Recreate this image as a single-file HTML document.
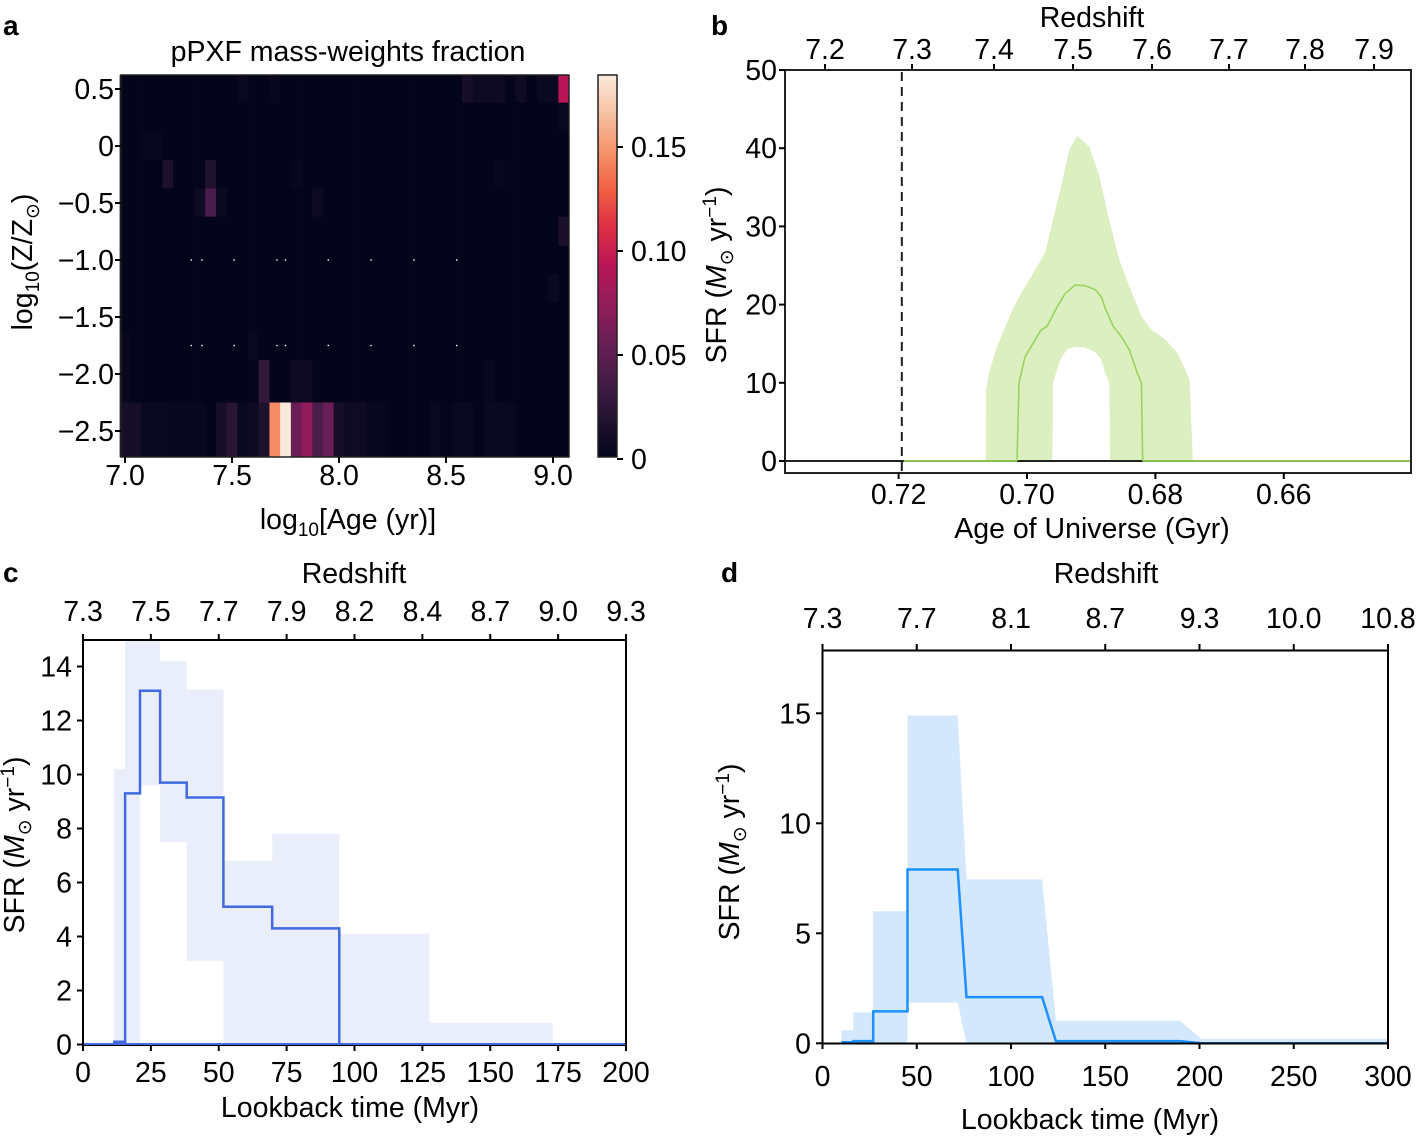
<!DOCTYPE html>
<html><head><meta charset="utf-8">
<style>
html,body{margin:0;padding:0;background:#fff;}
svg{display:block;font-family:"Liberation Sans",Arial,sans-serif;}
text{fill:#000;}
</style></head>
<body>
<svg id="fig" width="1416" height="1140" viewBox="0 0 1416 1140" xmlns="http://www.w3.org/2000/svg"></svg>
<script>
// ---------- Panel a data ----------
const ageCenters = []; // log10 age column centers
for (let k = 0; k < 42; k++) ageCenters.push(7.0 + 0.05 * k);
const zRowEdges = [0.623, 0.38, 0.125, -0.123, -0.372, -0.62, -0.875, -1.123, -1.37, -1.622, -1.877, -2.25, -2.725];
const bgValue = 0.0006;
const cellRow = [11,11,11,11,11,11,11,11,11,11,11,11,11,11,11,11,11,11,11,11,11,11,11,11,11,11,11,11,11,11, 10,10,10,10,10, 9,9, 7, 5, 4,4,4,4, 3,3,3,3, 2,2, 1, 0,0,0,0,0,0,0,0,0,0];
const cellCol = [0,1,2,3,4,5,6,7,9,10,11,12,13,14,15,16,17,18,19,20,21,22,23,24,29,31,32,34,35,36, 0,13,16,17,34, 0,12, 40, 41, 7,8,9,18, 4,8,16,35, 2,3, 41, 11,14,32,33,34,35,37,39,40,41];
const cellVal = [0.012,0.012,0.005,0.005,0.004,0.003,0.003,0.004,0.012,0.022,0.004,0.007,0.016,0.145,0.184,0.055,0.074,0.04,0.055,0.012,0.006,0.008,0.003,0.003,0.004,0.004,0.005,0.005,0.005,0.004, 0.004,0.028,0.006,0.006,0.004, 0.004,0.004, 0.005, 0.014, 0.008,0.04,0.005,0.007, 0.015,0.017,0.003,0.003, 0.003,0.003, 0.004, 0.004,0.003,0.012,0.006,0.006,0.006,0.008,0.005,0.005,0.092];
const dotAges = [7.31,7.36,7.51,7.71,7.75,7.95,8.15,8.35,8.55];
const dotZ = [-1.0,-1.75];
const aXTicks = [7.0,7.5,8.0,8.5,9.0];
const aXLabels = ['7.0','7.5','8.0','8.5','9.0'];
const aYTicks = [0.5,0,-0.5,-1.0,-1.5,-2.0,-2.5];
const aYLabels = ['0.5','0','\u22120.5','\u22121.0','\u22121.5','\u22122.0','\u22122.5'];
const cbTicks = [0,0.05,0.10,0.15];
const cbLabels = ['0','0.05','0.10','0.15'];

// ---------- Panel b data ----------
const bUpperAge = [0.7064,0.70639,0.70595,0.70469,0.70251,0.70062,0.69907,0.6972,0.69595,0.6947,0.69343,0.69218,0.69031,0.68874,0.68718,0.68561,0.68405,0.68218,0.68061,0.67843,0.67654,0.67467,0.67416];
const bUpperVal = [0,9.1,11.2,14.6,18.9,21.9,24.0,26.6,30.8,35.1,39.8,41.6,40.2,36.4,30.8,25.7,22.3,18.5,16.8,15.5,13.8,10.4,0];
const bLowerAge = [0.69606,0.69593,0.69531,0.69469,0.69374,0.69249,0.69093,0.68936,0.68843,0.6878,0.68718,0.68706];
const bLowerVal = [0,10.0,11.7,13.2,14.3,14.6,14.5,13.9,13.0,11.2,10.0,0];
const bMedAge = [0.70156,0.70125,0.70031,0.69938,0.69782,0.69688,0.69531,0.69407,0.69249,0.69093,0.68936,0.68843,0.6878,0.68656,0.6853,0.68405,0.6828,0.68218,0.68198];
const bMedVal = [0,10.0,13.3,14.6,16.75,17.2,19.7,21.4,22.5,22.4,21.9,21.0,19.5,17.2,15.9,14.2,11.2,10.0,0];
const bObsAge = 0.7195;
const bXTicks = [0.72,0.70,0.68,0.66];
const bXLabels = ['0.72','0.70','0.68','0.66'];
const bYTicks = [0,10,20,30,40,50];
const bTopAge = [0.73146,0.71791,0.70514,0.69283,0.68053,0.66854,0.6567,0.64595];
const bTopLabels = ['7.2','7.3','7.4','7.5','7.6','7.7','7.8','7.9'];

// ---------- Panel c data ----------
const cEdges = [0,11.5,15.5,21,28.4,38.2,51.7,69.7,94.4,127.6,173,200];
const cMedian = [0,0.1,9.3,13.1,9.7,9.15,5.1,4.3,0,0,0];
const cUpper = [0,10.2,15.5,15.5,14.2,13.15,6.8,7.8,4.1,0.8,0];
const cLower = [0,0,0,9.6,7.5,3.1,0,0,0,0,0];
const cXTicks = [0,25,50,75,100,125,150,175,200];
const cYTicks = [0,2,4,6,8,10,12,14];
const cTopLabels = ['7.3','7.5','7.7','7.9','8.2','8.4','8.7','9.0','9.3'];

// ---------- Panel d data ----------
const dUpperT = [10,10,16.4,16.4,26.9,26.9,45.1,45.1,71.7,76.4,116.5,123.8,189.6,201,300,300];
const dUpperV = [0,0.6,0.6,1.4,1.4,6.0,6.0,14.9,14.9,7.45,7.45,1.03,1.03,0.2,0.2,0];
const dLowerT = [45.1,45.1,71.7,76.4];
const dLowerV = [0,1.85,1.85,0];
const dMedT = [10,16.4,16.4,26.9,26.9,45.1,45.1,71.7,76.4,116.5,123.8,189.6,201,300];
const dMedV = [0.05,0.05,0.1,0.1,1.45,1.45,7.9,7.9,2.1,2.1,0.1,0.1,0,0];
const dXTicks = [0,50,100,150,200,250,300];
const dYTicks = [0,5,10,15];
const dTopLabels = ['7.3','7.7','8.1','8.7','9.3','10.0','10.8'];

// ---------- helpers ----------
const NS = 'http://www.w3.org/2000/svg';
const svg = document.getElementById('fig');
function mk(tag, attrs, name, parent) {
  const el = document.createElementNS(NS, tag);
  for (const k in attrs) el.setAttribute(k, attrs[k]);
  
  
  (parent || svg).appendChild(el);
  return el;
}
function txt(s, x, y, size, anchor, name, extra) {
  const el = mk('text', Object.assign({x: x, y: y, 'font-size': size, 'text-anchor': anchor || 'middle'}, extra || {}), name);
  el.textContent = s;
  return el;
}
function line(x1,y1,x2,y2,name,stroke,w,dash){
  const a={x1:x1,y1:y1,x2:x2,y2:y2,stroke:stroke||'#000','stroke-width':w||2};
  if(dash) a['stroke-dasharray']=dash;
  return mk('line',a,name);
}
const FS = 28.5;
const SUB = 19;
const stops = [[0,'#03051a'],[0.1,'#221331'],[0.2,'#451c47'],[0.3,'#6a1f56'],[0.4,'#921c5b'],[0.5,'#b91657'],[0.6,'#de2e44'],[0.7,'#f06043'],[0.8,'#f5936a'],[0.9,'#f6c1a2'],[1,'#faebdd']];
function hx(c){return [parseInt(c.slice(1,3),16),parseInt(c.slice(3,5),16),parseInt(c.slice(5,7),16)];}
function cmap(t){
  t=Math.max(0,Math.min(1,t));
  for(let i=1;i<stops.length;i++){ if(t<=stops[i][0]){ const a=hx(stops[i-1][1]),b=hx(stops[i][1]); const f=(t-stops[i-1][0])/(stops[i][0]-stops[i-1][0]); return 'rgb('+a.map((v,j)=>Math.round(v+(b[j]-v)*f)).join(',')+')'; } }
  return stops[stops.length-1][1];
}
const sfrLabel = 'SFR (<tspan font-style="italic">M</tspan><tspan font-size="'+SUB+'" dy="7">\u2299</tspan><tspan dy="-7"> yr</tspan><tspan font-size="'+SUB+'" dy="-10">\u22121</tspan><tspan dy="10">)</tspan>';

// ---------- Panel a ----------
const aX = v => 125 + (v - 7.0) * 214;
const aY = z => 89 - (z - 0.5) * 114;
const vmax = 0.1846;
const heat = mk('g', {}, 'heatmap');
const grid = [];
for (let r = 0; r < 12; r++) { grid.push([]); for (let c = 0; c < 42; c++) grid[r].push(bgValue); }
for (let i = 0; i < cellRow.length; i++) grid[cellRow[i]][cellCol[i]] = cellVal[i];
for (let r = 0; r < 12; r++) {
  for (let c = 0; c < 42; c++) {
    const x0 = aX(ageCenters[c] - 0.025), x1 = aX(ageCenters[c] + 0.025);
    const y0 = aY(zRowEdges[r]), y1 = aY(zRowEdges[r + 1]);
    mk('rect', {x: x0, y: y0, width: x1 - x0 + 0.4, height: y1 - y0 + 0.4, fill: cmap(grid[r][c] / vmax)}, 'heatmap-cell', heat);
  }
}
dotZ.forEach(z => dotAges.forEach(a => mk('rect', {x: aX(a) - 0.7, y: aY(z) - 0.7, width: 1.4, height: 1.4, fill: '#fff'}, 'grid-dot')));
mk('rect', {x: 121, y: 75, width: 448, height: 382, fill: 'none', stroke: '#222', 'stroke-width': 1.5}, 'heatmap-frame');
aXTicks.forEach((t, i) => { line(aX(t), 457, aX(t), 463, 'x-tick-a'); txt(aXLabels[i], aX(t), 485, FS, 'middle', 'x-tick-label-a'); });
aYTicks.forEach((t, i) => { line(115, aY(t), 121, aY(t), 'y-tick-a'); txt(aYLabels[i], 114, aY(t) + 10, FS, 'end', 'y-tick-label-a'); });
txt('pPXF mass-weights fraction', 348, 61, FS, 'middle', 'panel-a-title');
(function(){ const t = txt('', 348, 529, FS, 'middle', 'x-axis-title-a'); t.innerHTML = 'log<tspan font-size="'+SUB+'" dy="7">10</tspan><tspan dy="-7">[Age (yr)]</tspan>'; })();
(function(){ const t = txt('', 0, 0, FS, 'middle', 'y-axis-title-a', {transform: 'translate(32,262) rotate(-90)'}); t.innerHTML = 'log<tspan font-size="'+SUB+'" dy="7">10</tspan><tspan dy="-7">(Z/Z</tspan><tspan font-size="'+SUB+'" dy="7">\u2299</tspan><tspan dy="-7">)</tspan>'; })();
txt('a', 3, 35, 28, 'start', 'panel-label-a', {'font-weight': 'bold'});
// colorbar
const defs = mk('defs', {}, 'defs');
const grad = mk('linearGradient', {id: 'rocket', x1: 0, y1: 1, x2: 0, y2: 0}, 'colorbar-gradient', defs);
stops.forEach(s => mk('stop', {offset: s[0], 'stop-color': s[1]}, 'gradient-stop', grad));
mk('rect', {x: 598, y: 75, width: 19, height: 382, fill: 'url(#rocket)', stroke: '#222', 'stroke-width': 1.5}, 'colorbar');
const cbY = v => 459 - v * 2080;
cbTicks.forEach((t, i) => { line(617, cbY(t), 623, cbY(t), 'colorbar-tick'); txt(cbLabels[i], 631, cbY(t) + 10, FS, 'start', 'colorbar-label'); });

// ---------- Panel b ----------
const bX = g => 1027 - (g - 0.70) * 6420;
const bY = v => 461 - v * 7.82;
const ptsB = (xs, vs) => xs.map((g, i) => bX(g).toFixed(1) + ',' + bY(vs[i]).toFixed(1)).join(' ');
mk('polygon', {points: ptsB(bUpperAge, bUpperVal), fill: '#dbefc0'}, 'sfr-band-b');
mk('polygon', {points: ptsB(bLowerAge, bLowerVal), fill: '#fff'}, 'sfr-band-b-lower');
line(785, bY(0), 1411, bY(0), 'zero-line-b', '#222', 2);
line(bX(bObsAge) + 2, bY(0), bX(bMedAge[0]), bY(0), 'median-zero-b-left', '#8cc152', 2);
line(bX(bMedAge[bMedAge.length - 1]), bY(0), 1410, bY(0), 'median-zero-b-right', '#8cc152', 2);
mk('polyline', {points: ptsB(bMedAge, bMedVal), fill: 'none', stroke: '#9ad45e', 'stroke-width': 1.6}, 'sfr-median-b');
line(bX(bObsAge), 72, bX(bObsAge), 472, 'observation-line', '#222', 2, '9,6');
mk('rect', {x: 785, y: 70, width: 626, height: 403, fill: 'none', stroke: '#222', 'stroke-width': 2}, 'axes-frame-b');
bXTicks.forEach((t, i) => { line(bX(t), 473, bX(t), 479, 'x-tick-b'); txt(bXLabels[i], bX(t), 504, FS, 'middle', 'x-tick-label-b'); });
bYTicks.forEach(t => { line(779, bY(t), 785, bY(t), 'y-tick-b'); txt(String(t), 777, bY(t) + 10, FS, 'end', 'y-tick-label-b'); });
bTopAge.forEach((g, i) => { line(bX(g), 64, bX(g), 70, 'top-tick-b'); txt(bTopLabels[i], bX(g), 59, FS, 'middle', 'redshift-label-b'); });
txt('Redshift', 1092, 27, FS, 'middle', 'top-axis-title-b');
txt('Age of Universe (Gyr)', 1092, 538, FS, 'middle', 'x-axis-title-b');
(function(){ const t = txt('', 0, 0, FS, 'middle', 'y-axis-title-b', {transform: 'translate(726,275) rotate(-90)'}); t.innerHTML = sfrLabel; })();
txt('b', 711, 35, 28, 'start', 'panel-label-b', {'font-weight': 'bold'});

// ---------- Panel c ----------
const cX = t => 83 + t * 2.715;
const cY = v => 1044.5 - v * 27;
function stepPts(edges, vals, X, Y) { const p = []; for (let i = 0; i < vals.length; i++) { p.push([X(edges[i]), Y(vals[i])]); p.push([X(edges[i + 1]), Y(vals[i])]); } return p; }
const upC = stepPts(cEdges, cUpper, cX, cY), loC = stepPts(cEdges, cLower, cX, cY).reverse();
mk('polygon', {points: upC.concat(loC).map(p => p[0].toFixed(1) + ',' + Math.max(640, p[1]).toFixed(1)).join(' '), fill: '#eaeefb'}, 'sfr-band-c');
mk('polyline', {points: stepPts(cEdges, cMedian, cX, cY).map(p => p[0].toFixed(1) + ',' + p[1].toFixed(1)).join(' '), fill: 'none', stroke: '#4169e1', 'stroke-width': 2.5}, 'sfr-median-c');
mk('rect', {x: 83, y: 640, width: 543, height: 405, fill: 'none', stroke: '#000', 'stroke-width': 2}, 'axes-frame-c');
line(84, 1044, 625, 1044, 'median-zero-c', '#4169e1', 2);
cXTicks.forEach((t, i) => { line(cX(t), 1045, cX(t), 1051, 'x-tick-c'); txt(String(t), cX(t), 1082, FS, 'middle', 'x-tick-label-c'); line(cX(t), 634, cX(t), 640, 'top-tick-c'); txt(cTopLabels[i], cX(t), 621, FS, 'middle', 'redshift-label-c'); });
cYTicks.forEach(t => { line(77, cY(t), 83, cY(t), 'y-tick-c'); txt(String(t), 72, cY(t) + 10, FS, 'end', 'y-tick-label-c'); });
txt('Redshift', 354, 583, FS, 'middle', 'top-axis-title-c');
txt('Lookback time (Myr)', 350, 1117, FS, 'middle', 'x-axis-title-c');
(function(){ const t = txt('', 0, 0, FS, 'middle', 'y-axis-title-c', {transform: 'translate(24,845) rotate(-90)'}); t.innerHTML = sfrLabel; })();
txt('c', 3, 582, 28, 'start', 'panel-label-c', {'font-weight': 'bold'});

// ---------- Panel d ----------
const dX = t => 822.5 + t * 1.885;
const dY = v => 1043.3 - v * 22;
const ptsD = (ts, vs) => ts.map((t, i) => dX(t).toFixed(1) + ',' + dY(vs[i]).toFixed(1)).join(' ');
mk('polygon', {points: ptsD(dUpperT, dUpperV), fill: '#d3e8fc'}, 'sfr-band-d');
mk('polygon', {points: ptsD(dLowerT, dLowerV), fill: '#fff'}, 'sfr-band-d-lower');
mk('polyline', {points: ptsD(dMedT, dMedV), fill: 'none', stroke: '#1e90ff', 'stroke-width': 2.5}, 'sfr-median-d');
mk('rect', {x: 822.5, y: 650.5, width: 565.5, height: 393, fill: 'none', stroke: '#000', 'stroke-width': 2}, 'axes-frame-d');
dXTicks.forEach((t, i) => { line(dX(t), 1043, dX(t), 1049, 'x-tick-d'); txt(String(t), dX(t), 1086, FS, 'middle', 'x-tick-label-d'); line(dX(t), 644, dX(t), 650, 'top-tick-d'); txt(dTopLabels[i], dX(t), 628, FS, 'middle', 'redshift-label-d'); });
dYTicks.forEach(t => { line(816, dY(t), 822, dY(t), 'y-tick-d'); txt(String(t), 811, dY(t) + 10, FS, 'end', 'y-tick-label-d'); });
txt('Redshift', 1106, 583, FS, 'middle', 'top-axis-title-d');
txt('Lookback time (Myr)', 1090, 1129, FS, 'middle', 'x-axis-title-d');
(function(){ const t = txt('', 0, 0, FS, 'middle', 'y-axis-title-d', {transform: 'translate(739,852) rotate(-90)'}); t.innerHTML = sfrLabel; })();
txt('d', 721, 582, 28, 'start', 'panel-label-d', {'font-weight': 'bold'});
</script>
</body></html>
